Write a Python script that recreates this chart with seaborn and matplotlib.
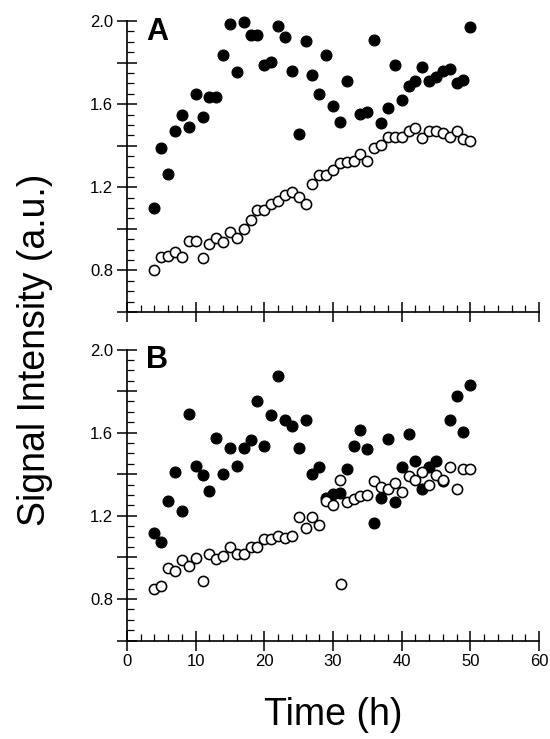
import matplotlib
matplotlib.use("Agg")
import matplotlib.pyplot as plt
import pandas as pd
import seaborn as sns
from matplotlib.ticker import MultipleLocator

# ---------------- data ----------------
time_a_open = list(range(4, 51))
a_open = [0.80, 0.865, 0.87, 0.89, 0.865, 0.94, 0.94, 0.86, 0.925, 0.955,
          0.935, 0.985, 0.955, 1.00, 1.045, 1.09, 1.09, 1.12, 1.135, 1.165,
          1.175, 1.155, 1.12, 1.218, 1.26, 1.26, 1.285, 1.318, 1.322, 1.327,
          1.362, 1.327, 1.39, 1.404, 1.44, 1.44, 1.44, 1.47, 1.486, 1.435,
          1.47, 1.47, 1.462, 1.44, 1.47, 1.431, 1.423]

time_a_filled = list(range(4, 33)) + list(range(34, 51))
a_filled = [1.10, 1.39, 1.265, 1.47, 1.55, 1.49, 1.65, 1.54, 1.635, 1.635,
            1.835, 1.985, 1.755, 1.995, 1.935, 1.935, 1.79, 1.805, 1.975, 1.925,
            1.76, 1.455, 1.905, 1.74, 1.65, 1.835, 1.59, 1.515, 1.71,
            1.552, 1.56, 1.91, 1.508, 1.582, 1.79, 1.62, 1.687, 1.71, 1.777,
            1.709, 1.732, 1.758, 1.769, 1.70, 1.716, 1.971]

time_b_open = list(range(4, 32)) + [31.1] + list(range(32, 51))
b_open = [0.848, 0.863, 0.951, 0.932, 0.985, 0.96, 0.998, 0.888, 1.015, 0.991,
          1.006, 1.05, 1.015, 1.015, 1.05, 1.05, 1.088, 1.088, 1.105, 1.095,
          1.104, 1.194, 1.14, 1.196, 1.155, 1.269, 1.253, 1.373, 0.874,
          1.266, 1.282, 1.293, 1.298, 1.365, 1.338, 1.329, 1.357, 1.314, 1.39,
          1.373, 1.41, 1.349, 1.395, 1.373, 1.433, 1.33, 1.425, 1.425]

time_b_filled = list(range(4, 51))
b_filled = [1.118, 1.073, 1.272, 1.409, 1.221, 1.69, 1.438, 1.394, 1.317, 1.573,
            1.402, 1.528, 1.439, 1.528, 1.566, 1.753, 1.536, 1.685, 1.873, 1.663,
            1.632, 1.528, 1.663, 1.401, 1.434, 1.287, 1.305, 1.312, 1.426, 1.535,
            1.613, 1.522, 1.166, 1.285, 1.568, 1.265, 1.433, 1.595, 1.463, 1.329,
            1.436, 1.463, 1.365, 1.663, 1.775, 1.603, 1.827]

panel_labels = ["A", "B"]
x_ticks = [0, 10, 20, 30, 40, 50, 60]
y_ticks = [0.8, 1.2, 1.6, 2.0]

# ---------------- figure ----------------
sns.set_theme(style="ticks")
plt.rcParams["font.family"] = ["Liberation Sans", "DejaVu Sans"]
plt.rcParams["text.color"] = "black"
plt.rcParams["axes.labelcolor"] = "black"

fig = plt.figure(figsize=(5.5, 7.39), dpi=100)
left, width, height = 127 / 550, 412 / 550, 291 / 739
axA = fig.add_axes([left, 1 - 312 / 739, width, height])
axB = fig.add_axes([left, 1 - 640.5 / 739, width, height])

panels = [
    (axA, time_a_filled, a_filled, time_a_open, a_open),
    (axB, time_b_filled, b_filled, time_b_open, b_open),
]

for i, (ax, tf, vf, to, vo) in enumerate(panels):
    df_f = pd.DataFrame({"t": tf, "v": vf})
    df_o = pd.DataFrame({"t": to, "v": vo})
    sns.scatterplot(data=df_f, x="t", y="v", ax=ax, s=62, color="black",
                    edgecolor="black", linewidth=0.8, clip_on=False, zorder=3)
    sns.scatterplot(data=df_o, x="t", y="v", ax=ax, s=54, color="white",
                    edgecolor="black", linewidth=1.15, clip_on=False, zorder=4)

    ax.set_xlim(0, 60)
    ax.set_ylim(0.6, 2.0)
    for s in ["top", "right"]:
        ax.spines[s].set_visible(False)
    for s in ["left", "bottom"]:
        ax.spines[s].set_linewidth(1.2)
        ax.spines[s].set_color("black")

    ax.xaxis.set_major_locator(MultipleLocator(10))
    ax.xaxis.set_minor_locator(MultipleLocator(2))
    ax.yaxis.set_major_locator(MultipleLocator(0.2))
    ax.yaxis.set_minor_locator(MultipleLocator(0.05))

    ax.tick_params(which="major", direction="inout", length=14, width=1.1,
                   color="black", labelsize=12, labelcolor="black", pad=3)
    ax.tick_params(which="minor", direction="in", length=5, width=0.9,
                   color="black")

    ax.set_yticks([0.6, 0.8, 1.0, 1.2, 1.4, 1.6, 1.8, 2.0])
    ax.set_yticklabels(["" if round(v, 1) not in y_ticks else f"{v:.1f}"
                        for v in [0.6, 0.8, 1.0, 1.2, 1.4, 1.6, 1.8, 2.0]])
    ax.set_xticks(x_ticks)
    if i == 0:
        ax.set_xticklabels([])
    else:
        ax.set_xticklabels([str(v) for v in x_ticks])
    ax.set_xlabel("")
    ax.set_ylabel("")
    ax.text(0.046, 0.935, panel_labels[i], transform=ax.transAxes,
            fontsize=22, fontweight="bold", va="baseline", ha="left",
            color="black")

fig.text(35 / 550, 1 - 350 / 739, "Signal Intensity (a.u.)", rotation=90,
         fontsize=27, ha="center", va="center", color="black")
fig.text(333 / 550, 1 - 715 / 739, "Time (h)", fontsize=27,
         ha="center", va="center", color="black")

fig.savefig("out.png", dpi=100, facecolor="white")
